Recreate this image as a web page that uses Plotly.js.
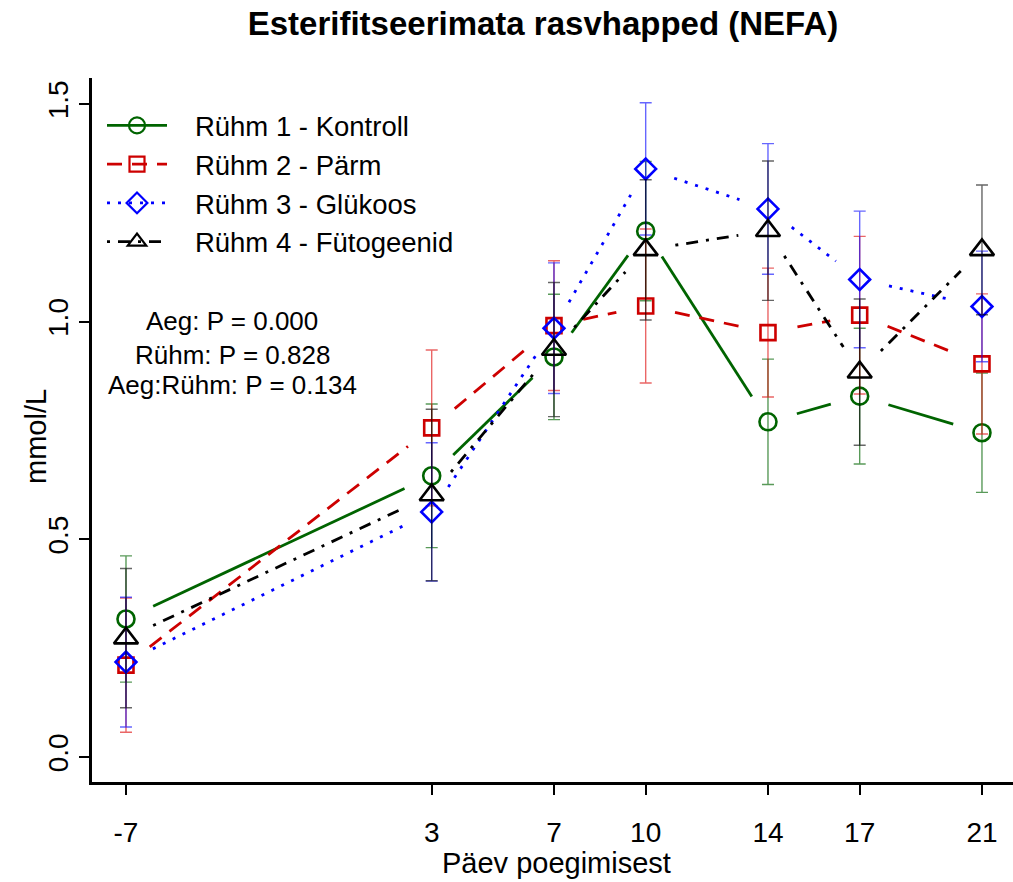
<!DOCTYPE html>
<html>
<head>
<meta charset="utf-8">
<script src="https://cdn.plot.ly/plotly-3.0.1.min.js"></script>
<style>
  html, body { margin: 0; padding: 0; background: #fff; }
  #chart { width: 1013px; height: 882px; }
</style>
</head>
<body>
<div id="chart"></div>
<script>
// Sampling days relative to calving
const days = [-7, 3, 7, 10, 14, 17, 21];
const dayLabels = ['-7', '3', '7', '10', '14', '17', '21'];

// Group names
const groupNames = ['Rühm 1 - Kontroll', 'Rühm 2 - Pärm', 'Rühm 3 - Glükoos', 'Rühm 4 - Fütogeenid'];

// Mean NEFA (mmol/L) per group
const g1Mean = [0.317, 0.646, 0.919, 1.208, 0.770, 0.829, 0.745];
const g2Mean = [0.211, 0.756, 0.991, 1.036, 0.975, 1.015, 0.903];
const g3Mean = [0.218, 0.563, 0.985, 1.351, 1.259, 1.097, 1.035];
const g4Mean = [0.273, 0.602, 0.936, 1.165, 1.209, 0.884, 1.165];

// Standard errors per group
const g1Se = [0.145, 0.165, 0.144, 0.160, 0.144, 0.156, 0.137];
const g2Se = [0.154, 0.179, 0.149, 0.177, 0.148, 0.181, 0.161];
const g3Se = [0.149, 0.159, 0.150, 0.152, 0.150, 0.157, 0.127];
const g4Se = [0.160, 0.197, 0.154, 0.161, 0.160, 0.168, 0.149];

// Y axis ticks
const yTicks = [0, 0.5, 1.0, 1.5];
const yTickLabels = ['0.0', '0.5', '1.0', '1.5'];

// Axis titles and model p-values
const xTitle = 'Päev poegimisest';
const yTitle = 'mmol/L';
const pLines = ['Aeg: P = 0.000', 'Rühm: P = 0.828', 'Aeg:Rühm: P = 0.134'];

// ---- layout geometry ----
const W = 1013, H = 882;
const margin = {l: 92, r: 0, t: 78, b: 100};
const xRange = [-8.112, 22.015];
const yRange = [-0.0574, 1.5598];
const plotW = W - margin.l - margin.r;
const plotH = H - margin.t - margin.b;
const kx = plotW / (xRange[1] - xRange[0]);   // px per day
const ky = plotH / (yRange[1] - yRange[0]);   // px per mmol/L
const GAP = 30;                               // px left open around each point
const px2x = px => (px - margin.l) / plotW;
const px2y = py => 1 - (py - margin.t) / plotH;

const styles = [
  {color: '#006400', err: 'rgba(0,100,0,0.65)', symbol: 'circle-open',      size: 17, dash: 'solid'},
  {color: '#CD0000', err: 'rgba(220,0,0,0.6)',  symbol: 'square-open',      size: 15, dash: '15px,10px'},
  {color: '#0000FF', err: 'rgba(0,0,255,0.6)',  symbol: 'diamond-open',     size: 16, dash: '3px,8px'},
  {color: '#000000', err: 'rgba(0,0,0,0.6)',    symbol: 'triangle-up-open', size: 21, dash: '3px,8px,12px,8px'}
];

const means = [g1Mean, g2Mean, g3Mean, g4Mean];
const ses = [g1Se, g2Se, g3Se, g4Se];

// Connecting segments with open space around the points (like type = "b")
function gappedSegments(xs, ys) {
  const sx = [null], sy = [null];
  for (let i = 0; i < xs.length - 1; i++) {
    const dx = (xs[i + 1] - xs[i]) * kx;
    const dy = (ys[i + 1] - ys[i]) * ky;
    const L = Math.hypot(dx, dy);
    if (L <= 2 * GAP) continue;
    const t = GAP / L;
    sx.push(xs[i] + t * (xs[i + 1] - xs[i]), xs[i + 1] - t * (xs[i + 1] - xs[i]), null);
    sy.push(ys[i] + t * (ys[i + 1] - ys[i]), ys[i + 1] - t * (ys[i + 1] - ys[i]), null);
  }
  return {x: sx, y: sy};
}

const traces = [];
means.forEach((m, k) => {
  const s = styles[k];
  // points with error bars
  traces.push({
    type: 'scatter', mode: 'markers', x: days, y: m,
    showlegend: false, hoverinfo: 'x+y',
    marker: {symbol: s.symbol, size: s.size, color: s.color, line: {width: 2.6}},
    error_y: {type: 'data', array: ses[k], visible: true, color: s.err, thickness: 1.4, width: 6}
  });
  // connecting lines; the leading blank point carries the legend marker colour
  const seg = gappedSegments(days, m);
  const markerColors = seg.x.map((v, i) => i === 0 ? s.color : 'rgba(0,0,0,0)');
  traces.push({
    type: 'scatter', mode: 'lines+markers', x: seg.x, y: seg.y,
    name: '\u00a0\u00a0\u00a0' + groupNames[k], legendgroup: 'g' + k, hoverinfo: 'skip',
    line: {color: s.color, width: 2.8, dash: s.dash},
    marker: {symbol: s.symbol, size: s.size, color: markerColors, line: {width: 2.2}}
  });
});

const font = 'Liberation Sans, Arial, sans-serif';

const annotations = pLines.map((t, i) => ({
  text: t, showarrow: false,
  xref: 'paper', yref: 'paper',
  x: px2x(232), y: px2y([321, 355, 385][i]),
  xanchor: 'center', yanchor: 'middle',
  font: {family: font, size: 26, color: '#000'}
}));
annotations.push({
  text: xTitle, showarrow: false, xref: 'paper', yref: 'paper',
  x: px2x(556), y: px2y(863), xanchor: 'center', yanchor: 'middle',
  font: {family: font, size: 29, color: '#000'}
});
annotations.push({
  text: yTitle, showarrow: false, xref: 'paper', yref: 'paper', textangle: -90,
  x: px2x(36), y: px2y(437), xanchor: 'center', yanchor: 'middle',
  font: {family: font, size: 29, color: '#000'}
});

const layout = {
  width: W, height: H,
  margin: margin,
  paper_bgcolor: '#fff', plot_bgcolor: '#fff',
  font: {family: font, color: '#000', size: 28},
  title: {
    text: 'Esterifitseerimata rasvhapped (NEFA)',
    font: {family: font, size: 33, weight: 'bold', color: '#000'},
    xref: 'paper', x: px2x(543), xanchor: 'center',
    yref: 'container', y: 1 - 23 / H, yanchor: 'middle'
  },
  xaxis: {
    range: xRange, showgrid: false, zeroline: false,
    showline: true, linewidth: 3, linecolor: '#000',
    ticks: 'outside', ticklen: 10, tickwidth: 2, tickcolor: '#000',
    tickvals: days, ticktext: dayLabels,
    tickfont: {family: font, size: 28},
    ticklabelstandoff: 13
  },
  yaxis: {
    range: yRange, showgrid: false, zeroline: false,
    showline: true, linewidth: 3, linecolor: '#000',
    ticks: 'outside', ticklen: 10, tickwidth: 2, tickcolor: '#000',
    tickvals: yTicks, ticktext: yTickLabels, tickangle: -90,
    tickfont: {family: font, size: 28}
  },
  legend: {
    x: px2x(102), y: px2y(101),
    xanchor: 'left', yanchor: 'top',
    bgcolor: 'rgba(0,0,0,0)', borderwidth: 0,
    font: {family: font, size: 27.5},
    itemwidth: 60, tracegroupgap: 0, traceorder: 'grouped'
  },
  annotations: annotations
};

Plotly.newPlot('chart', traces, layout, {displayModeBar: false, staticPlot: true});
</script>
</body>
</html>
